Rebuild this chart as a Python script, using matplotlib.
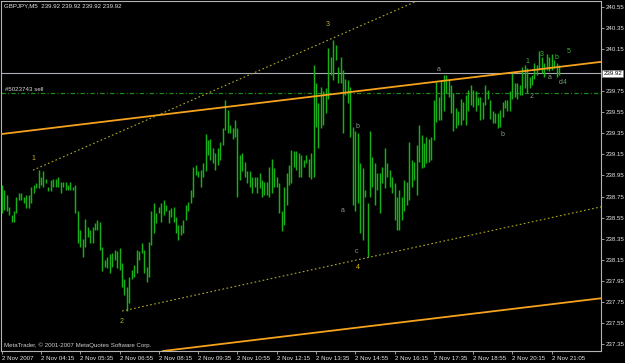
import numpy as np
import matplotlib
matplotlib.use("Agg")
import matplotlib.pyplot as plt
import matplotlib.transforms as mtransforms

# GBPJPY M5 bars, 2 Nov 2007
highs = [
    238.86, 238.81, 238.76, 238.65, 238.57, 238.61, 238.75, 238.78, 238.78, 238.75,
    238.76, 238.76, 238.84, 238.86, 238.88, 239.00, 238.94, 238.99, 238.92, 238.84,
    238.91, 238.92, 238.92, 238.94, 238.89, 238.89, 238.89, 238.86, 238.89, 238.84,
    238.86, 238.61, 238.43, 238.35, 238.54, 238.46, 238.43, 238.46, 238.50, 238.53,
    238.51, 238.27, 238.15, 238.18, 238.20, 238.21, 238.24, 238.23, 238.26, 238.12,
    237.97, 237.89, 237.99, 238.05, 238.10, 238.24, 238.23, 238.31, 238.24, 238.08,
    238.32, 238.61, 238.69, 238.59, 238.65, 238.69, 238.72, 238.67, 238.62, 238.64,
    238.65, 238.56, 238.48, 238.48, 238.53, 238.67, 238.70, 238.81, 239.03, 239.05,
    238.99, 239.00, 239.07, 239.34, 239.29, 239.30, 239.21, 239.16, 239.21, 239.27,
    239.40, 239.67, 239.57, 239.43, 239.40, 239.48, 239.40, 239.14, 239.16, 239.08,
    238.99, 238.99, 238.94, 238.94, 238.94, 238.97, 238.91, 238.89, 238.89, 239.03,
    239.11, 239.02, 238.94, 238.88, 238.61, 238.84, 238.97, 239.05, 239.19, 239.18,
    239.18, 239.16, 239.14, 239.10, 239.14, 239.11, 239.16, 240.00, 239.83, 239.64,
    239.79, 239.75, 239.78, 240.16, 240.08, 240.24, 240.19, 239.98, 240.08, 239.95,
    239.87, 239.86, 239.79, 239.41, 239.37, 239.35, 239.07, 239.02, 238.81, 238.69,
    239.37, 239.13, 239.07, 238.97, 238.97, 239.03, 239.21, 239.07, 239.00, 238.94,
    238.88, 238.75, 238.81, 238.75, 238.91, 238.89, 239.27, 239.10, 239.08, 239.24,
    239.43, 239.33, 239.26, 239.32, 239.30, 239.32, 239.67, 239.84, 239.70, 239.86,
    239.90, 239.90, 239.86, 239.81, 239.73, 239.59, 239.56, 239.68, 239.65, 239.71,
    239.76, 239.81, 239.76, 239.75, 239.70, 239.70, 239.65, 239.81, 239.76, 239.67,
    239.56, 239.54, 239.54, 239.57, 239.65, 239.67, 239.67, 239.75, 239.92, 239.83,
    239.83, 239.81, 239.98, 240.00, 239.97, 239.89, 239.90, 240.02, 240.00, 240.13,
    240.08, 240.02, 240.10, 240.08, 240.10, 240.05, 240.02, 240.00,
]
lows = [
    238.59, 238.62, 238.61, 238.57, 238.51, 238.51, 238.59, 238.72, 238.72, 238.69,
    238.64, 238.64, 238.69, 238.78, 238.83, 238.83, 238.86, 238.84, 238.88, 238.80,
    238.80, 238.84, 238.84, 238.84, 238.78, 238.84, 238.81, 238.81, 238.81, 238.81,
    238.59, 238.31, 238.27, 238.18, 238.27, 238.37, 238.31, 238.31, 238.43, 238.43,
    238.24, 238.04, 238.08, 238.07, 238.02, 238.08, 238.15, 238.07, 238.05, 237.89,
    237.81, 237.66, 237.74, 237.97, 237.99, 238.02, 238.15, 238.21, 238.02, 237.94,
    237.99, 238.29, 238.40, 238.50, 238.59, 238.51, 238.57, 238.61, 238.50, 238.56,
    238.51, 238.40, 238.34, 238.38, 238.40, 238.53, 238.61, 238.69, 238.75, 238.95,
    238.94, 238.84, 238.94, 238.99, 239.14, 239.10, 239.07, 239.00, 239.05, 239.10,
    239.24, 239.38, 239.35, 239.35, 239.30, 239.32, 238.75, 238.91, 238.99, 238.94,
    238.88, 238.84, 238.78, 238.84, 238.78, 238.83, 238.75, 238.76, 238.76, 238.75,
    238.78, 238.84, 238.84, 238.59, 238.42, 238.48, 238.67, 238.86, 238.88, 239.03,
    239.00, 238.94, 238.94, 239.03, 239.07, 238.94, 238.92, 238.94, 239.41, 239.21,
    239.40, 239.43, 239.54, 239.68, 239.90, 239.86, 240.05, 239.83, 239.83, 239.35,
    239.71, 239.64, 239.32, 238.67, 238.61, 238.69, 238.40, 238.34, 238.75, 238.18,
    238.75, 238.84, 238.67, 238.81, 238.59, 238.88, 238.83, 238.94, 238.84, 238.78,
    238.53, 238.43, 238.43, 238.53, 238.61, 238.67, 238.72, 238.84, 238.91, 238.76,
    239.08, 239.02, 239.03, 239.07, 239.08, 239.10, 239.29, 239.46, 239.48, 239.48,
    239.56, 239.73, 239.70, 239.54, 239.37, 239.40, 239.43, 239.43, 239.48, 239.43,
    239.56, 239.62, 239.60, 239.56, 239.62, 239.48, 239.49, 239.62, 239.68, 239.49,
    239.45, 239.45, 239.40, 239.41, 239.51, 239.59, 239.56, 239.56, 239.68, 239.70,
    239.68, 239.71, 239.71, 239.78, 239.73, 239.78, 239.81, 239.87, 239.90, 239.95,
    239.92, 239.89, 239.95, 239.94, 239.95, 239.97, 239.89, 239.905,
]

time_labels = ["2 Nov 2007", "2 Nov 04:15", "2 Nov 05:35", "2 Nov 06:55", "2 Nov 08:15",
               "2 Nov 09:35", "2 Nov 10:55", "2 Nov 12:15", "2 Nov 13:35", "2 Nov 14:55",
               "2 Nov 16:15", "2 Nov 17:35", "2 Nov 18:55", "2 Nov 20:15", "2 Nov 21:05"]
time_label_bars = list(range(0, 225, 16))
price_ticks = [240.55, 240.35, 240.15, 239.75, 239.55, 239.35, 239.15, 238.95,
               238.75, 238.55, 238.35, 238.15, 237.95, 237.75, 237.55, 237.35]

bid = 239.92
order_price = 239.73

# channel: orange parallels, yellow dotted rays (bar index, price)
orange_upper = [(0, 239.344), (243.6, 240.028)]
orange_lower_point = (173.1, 237.584)
ray_top = [(12.7, 239.00), (135.8, 240.265)]
ray_bottom = [(49.0, 237.662), (243.7, 238.650)]

# wave counts: (text, bar, price, colour)
waves = [
    ("1", 12.7, 239.11, "#b8b030"), ("2", 49.0, 237.56, "#b8b030"),
    ("3", 132.9, 240.38, "#b8b030"), ("4", 145.1, 238.08, "#e0c000"),
    ("a", 139.0, 238.62, "#8a9a8a"), ("b", 144.7, 239.42, "#8a9a8a"),
    ("c", 144.7, 238.23, "#8a9a8a"), ("a", 178.1, 239.96, "#8a9a8a"),
    ("b", 203.8, 239.34, "#8a9a8a"), ("1", 214.0, 240.03, "#3cb43c"),
    ("2", 216.0, 239.70, "#8a9a8a"), ("3", 220.1, 240.10, "#3cb43c"),
    ("b", 225.8, 240.075, "#3cb43c"), ("a", 223.0, 239.885, "#8a9a8a"),
    ("d", 227.8, 239.83, "#8a9a8a"), ("4", 229.2, 239.83, "#3cb43c"),
    ("5", 231.1, 240.13, "#3cb43c"),
]

W, H = 625, 363
fig = plt.figure(figsize=(W / 100, H / 100), dpi=100, facecolor="black")
ax = fig.add_axes([1 / W, 12 / H, 600 / W, 350 / H], facecolor="black")
font = "Liberation Sans"
fs = 4.4

idx = np.arange(len(highs))
ax.vlines(idx, lows, highs, color="#18b018", lw=1.05, zorder=3)

ax.set_xlim(-0.3, 244.1)
ax.set_ylim(237.2825, 240.6075)

# horizontal lines
ax.axhline(bid, color="#a9adb5", lw=0.8, zorder=2)
ax.axhline(order_price, color="#1a8a1a", lw=0.9, ls=(0, (3.5, 1.8, 0.8, 1.8)), zorder=2)
ax.text(0.006, order_price + 0.04, "#5023743 sell", transform=mtransforms.blended_transform_factory(ax.transAxes, ax.transData),
        color="#d8d8d8", fontsize=fs, family=font, va="center", ha="left")

# channel lines
slope = (orange_upper[1][1] - orange_upper[0][1]) / (orange_upper[1][0] - orange_upper[0][0])
ax.axline(orange_upper[0], orange_upper[1], color="#f5a21e", lw=1.3, zorder=4)
ax.axline(orange_lower_point, slope=slope, color="#f5a21e", lw=1.3, zorder=4)
x_end = 244.1
for (x0, y0), (x1, y1) in [ray_top, ray_bottom]:
    s = (y1 - y0) / (x1 - x0)
    ax.plot([x0, x_end], [y0, y0 + s * (x_end - x0)], color="#b0aa28", lw=0.8,
            ls=(0, (1.5, 2.2)), zorder=4)

for txt, xb, yp, col in waves:
    ax.text(xb, yp, txt, color=col, fontsize=fs + 0.6, family=font, ha="center", va="center", zorder=5)

# axes styling
for sp in ax.spines.values():
    sp.set_color("#b4b4b4")
    sp.set_linewidth(0.8)
ax.yaxis.tick_right()
ax.set_yticks(price_ticks)
ax.set_yticklabels(["%.2f" % p for p in price_ticks])
ax.set_xticks(time_label_bars)
ax.set_xticklabels(time_labels)
ax.tick_params(axis="both", colors="#b4b4b4", length=2.5, width=0.6, labelsize=fs,
               labelcolor="#e6e6e6", pad=1.2)
for lbl in ax.get_xticklabels():
    lbl.set_horizontalalignment("left")
    lbl.set_family(font)
for lbl in ax.get_yticklabels():
    lbl.set_family(font)

ax.text(1.004, bid, "%.2f" % bid, transform=mtransforms.blended_transform_factory(ax.transAxes, ax.transData),
        color="black", fontsize=fs, family=font, va="center", ha="left", zorder=6,
        bbox=dict(boxstyle="square,pad=0.15", fc="white", ec="#808080", lw=0.4))

fig.text(4 / W, 1 - 6 / H, "GBPJPY,M5  239.92 239.92 239.92 239.92", color="#e6e6e6",
         fontsize=fs, family=font, va="center", ha="left")
fig.text(4 / W, 1 - 345 / H, "MetaTrader, © 2001-2007 MetaQuotes Software Corp.", color="#d0d0d0",
         fontsize=fs, family=font, va="center", ha="left")

fig.savefig("out.png", dpi=100, facecolor="black")
